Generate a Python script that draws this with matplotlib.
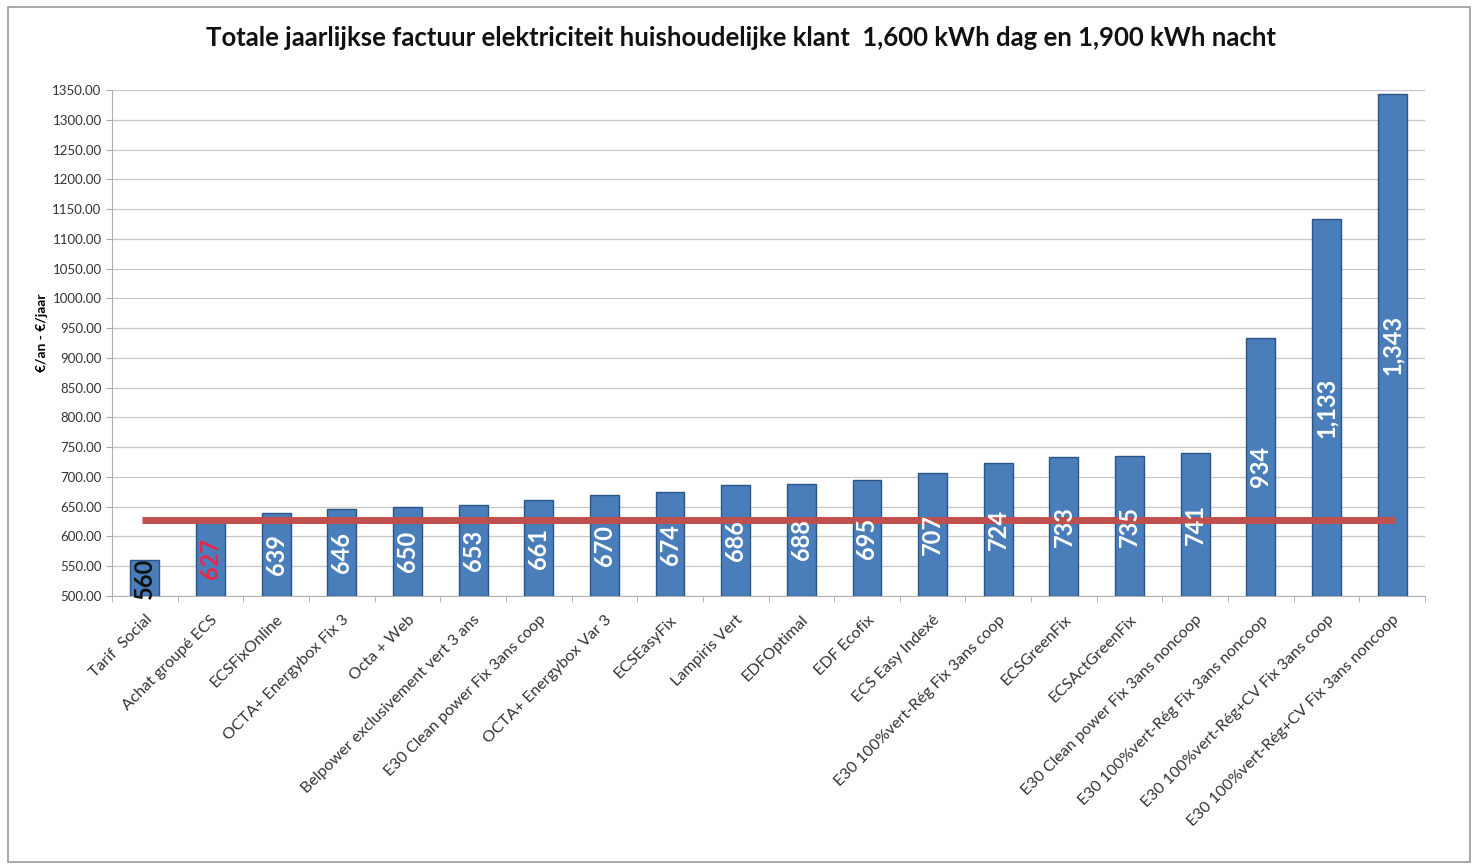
import matplotlib.pyplot as plt
import numpy as np
from matplotlib.patches import Rectangle

plt.rcParams['font.family'] = ['Lato', 'DejaVu Sans']

# data
labels = ['Tarif  Social', 'Achat groupé ECS', 'ECSFixOnline', 'OCTA+ Energybox Fix 3',
          'Octa + Web', 'Belpower exclusivement vert 3 ans', 'E30 Clean power Fix 3ans coop',
          'OCTA+ Energybox Var 3', 'ECSEasyFix', 'Lampiris Vert', 'EDFOptimal', 'EDF Ecofix',
          'ECS Easy Indexé', 'E30 100%vert-Rég Fix 3ans coop', 'ECSGreenFix', 'ECSActGreenFix',
          'E30 Clean power Fix 3ans noncoop', 'E30 100%vert-Rég Fix 3ans noncoop',
          'E30 100%vert-Rég+CV Fix 3ans coop', 'E30 100%vert-Rég+CV Fix 3ans noncoop']
values = [560, 627, 639, 646, 650, 653, 661, 670, 674, 686, 688, 695, 707, 724, 733, 735,
          741, 934, 1133, 1343]
reference_level = 627
label_colors = ['#111111', '#e8264a'] + ['white'] * 18

fig = plt.figure(figsize=(14.82, 8.65), dpi=100)
ax = fig.add_axes([112 / 1482, 1 - 596 / 865, 1313 / 1482, 506 / 865])

x = np.arange(len(values))
ymin = 500
bars = ax.bar(x, np.array(values) - ymin, bottom=ymin, width=0.44,
              color='#4a7ebb', edgecolor='#2c5587', linewidth=1.0, zorder=3)

# bar value labels, vertical, in the middle of each bar
for xi, v, c in zip(x, values, label_colors):
    ax.text(xi, (ymin + v) / 2, f'{v:,}', rotation=90, ha='center', va='center',
            fontsize=17, fontweight='bold', color=c, zorder=5)

# red reference line
ax.plot([-0.05, len(values) - 1 + 0.05], [reference_level, reference_level],
        color='#c0504d', linewidth=5, zorder=4, solid_capstyle='butt')

ax.set_xlim(-0.5, len(values) - 0.5)
ax.set_ylim(500, 1350)
ax.set_yticks(np.arange(500, 1351, 50))
ax.set_yticklabels([f'{t:.2f}' for t in np.arange(500, 1351, 50)], fontsize=9.5, color='#333333')
ax.yaxis.grid(True, color='#c8c8c8', linewidth=0.9, zorder=0)

ax.set_xticks(x)
ax.set_xticklabels(labels, rotation=45, ha='right', rotation_mode='anchor',
                   fontsize=11.5, color='#333333')
ax.tick_params(axis='x', length=0, pad=12)
ax.set_xticks(np.arange(-0.5, len(values), 1), minor=True)
ax.tick_params(axis='x', which='minor', length=4, color='#aaaaaa')
ax.tick_params(axis='y', length=4, color='#aaaaaa')

for s in ['top', 'right']:
    ax.spines[s].set_visible(False)
for s in ['left', 'bottom']:
    ax.spines[s].set_color('#b0b0b0')

ax.set_ylabel('€/an - €/jaar', fontsize=10, fontweight='bold', labelpad=8)
ax.yaxis.set_label_coords(-0.049, 0.52)

fig.text(0.5, 1 - 38 / 865, 'Totale jaarlijkse factuur elektriciteit huishoudelijke klant  1,600 kWh dag en 1,900 kWh nacht',
         ha='center', va='center', fontsize=18.5, fontweight='bold', color='#111111')

# outer frame of the chart
fig.patches.append(Rectangle((8 / 1482, 3 / 865), 1462 / 1482, 855 / 865, transform=fig.transFigure,
                             fill=False, edgecolor='#9a9a9a', linewidth=1.2))

fig.savefig('out.png', dpi=100)
